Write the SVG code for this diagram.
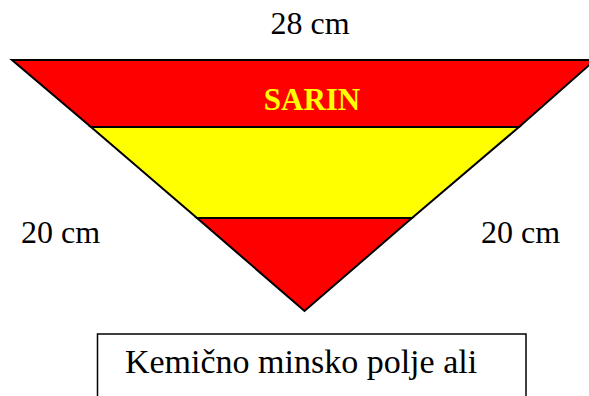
<svg xmlns="http://www.w3.org/2000/svg" width="589" height="396" viewBox="0 0 589 396">
<style>
.t{font-family:'Liberation Serif','Times New Roman',Times,'DejaVu Serif',serif;fill:#000}
.band{stroke:#000;stroke-width:2;stroke-linejoin:miter}
</style>
<rect width="589" height="396" fill="#fff"/>
<g id="sign">
<polygon class="band" points="12,60 595,60 519,127 91,127" fill="#ff0000"/>
<polygon class="band" points="91,127 519,127 412,218 197,218" fill="#ffff00"/>
<polygon class="band" points="197,218 412,218 304.5,311" fill="#ff0000"/>
<text class="t" x="312" y="110" text-anchor="middle" font-weight="bold" font-size="31" style="fill:#ffff00">SARIN</text>
</g>
<g id="labels">
<text class="t" x="310" y="34" text-anchor="middle" font-size="32">28 cm</text>
<text class="t" x="21" y="243" font-size="32">20 cm</text>
<text class="t" x="481" y="243" font-size="32">20 cm</text>
</g>
<g id="caption">
<rect x="97.5" y="334" width="428.5" height="80" fill="none" stroke="#000" stroke-width="1.5"/>
<text class="t" x="301" y="373" text-anchor="middle" font-size="34">Kemično minsko polje ali</text>
</g>
</svg>
